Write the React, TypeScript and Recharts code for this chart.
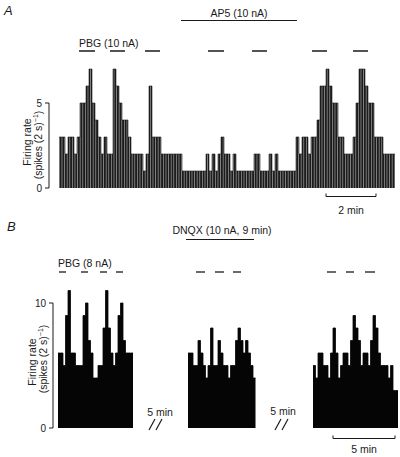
import React from 'react';
import { AreaChart, Area, XAxis, YAxis } from 'recharts';

// Panel A: firing rate, spikes per 2 s, binned across the recording
const panelA = [
    3, 3, 2, 3, 3, 2, 3, 5, 5, 6, 7, 5, 4, 3, 2, 3, 2, 2, 7, 6,
    5, 4, 4, 3, 2, 2, 2, 2, 1, 2, 6, 3, 3, 3, 2, 2, 2, 2, 2, 2,
    2, 1, 1, 1, 1, 1, 1, 1, 1, 2, 1, 2, 1, 2, 3, 2, 2, 1, 2, 1,
    1, 1, 1, 1, 1, 2, 2, 1, 1, 1, 2, 1, 2, 1, 1, 1, 1, 1, 1, 3,
    2, 3, 3, 2, 3, 3, 4, 6, 6, 7, 6, 5, 5, 3, 3, 2, 2, 2, 3, 5,
    7, 7, 6, 5, 5, 3, 3, 3, 2, 2, 2, 2,
];

// Panel B: three recording segments, separated by 5 min breaks
const panelBControl = [
    6, 6, 5, 9, 11, 6, 6, 5, 5, 5, 9, 10, 7, 6, 4, 4, 5, 5, 8, 11,
    8, 6, 5, 6, 9, 10, 7, 6, 6, 6,
];
const panelBDnqx = [
    6, 6, 5, 5, 7, 6, 5, 4, 5, 8, 5, 5, 7, 6, 5, 5, 4, 5, 5, 7,
    8, 7, 6, 7, 6, 5, 4,
];
const panelBRecovery = [
    5, 4, 6, 6, 5, 5, 4, 6, 8, 6, 4, 5, 6, 6, 5, 7, 9, 8, 7, 5,
    6, 6, 5, 7, 9, 8, 6, 5, 5, 5, 4, 5, 3, 3,
];
const BREAK_1 = 22;
const BREAK_2 = 23;

const A_TICKS = [0, 5];
const B_TICKS = [0, 10];
const A_MAX = 7;
const B_MAX = 11;

// step outline of a run of bins starting at bin `start`
const steps = (values: number[], start: number) => [
    ...values.map((v, k) => ({ x: start + k, v })),
    { x: start + values.length, v: values[values.length - 1] },
];

const dataA = steps(panelA, 0);
const startDnqx = panelBControl.length + BREAK_1;
const startRec = startDnqx + panelBDnqx.length + BREAK_2;
const endB = startRec + panelBRecovery.length;
const dataB = [
    ...steps(panelBControl, 0),
    { x: panelBControl.length + 0.5, v: null },
    ...steps(panelBDnqx, startDnqx),
    { x: startDnqx + panelBDnqx.length + 0.5, v: null },
    ...steps(panelBRecovery, startRec),
];

const FONT = '"Liberation Sans", Arial, sans-serif';
const INK = '#1a1a1a';

// y axis drawn by hand so the axis line stops at the top tick, like the figure
const makeTick = (unit: number, top: number) => (props: any) => {
    const { x, y, payload } = props;
    const axisX = x + 7;
    return (
        <g>
            <text x={x} y={y} dy={3.5} textAnchor="end" fontSize={10} fontFamily={FONT} fill={INK}>
                {payload.value}
            </text>
            <line x1={axisX - 4} x2={axisX} y1={y} y2={y} stroke={INK} strokeWidth={1} />
            {payload.value === top && (
                <line x1={axisX} x2={axisX} y1={y} y2={y + top * unit} stroke={INK} strokeWidth={1} />
            )}
        </g>
    );
};

const txt = { fontFamily: FONT, fill: INK, fontSize: 10.5 } as const;

const Slashes = ({ x, y }: { x: number; y: number }) => (
    <g stroke={INK} strokeWidth={1.2}>
        <line x1={x} y1={y + 11} x2={x + 6} y2={y} />
        <line x1={x + 7} y1={y + 11} x2={x + 13} y2={y} />
    </g>
);

export default function App() {
    const stimA = [[79, 95], [110, 125], [145, 160], [208, 224], [252, 267], [312, 327], [353, 368]];
    const stimB = [[59, 66], [81, 88], [100, 107], [116, 123], [196, 205], [215, 224], [233, 241], [327, 336], [346, 354], [365, 375]];

    return (
        <div style={{ position: 'absolute', left: 0, top: 0, width: 400, height: 457, background: '#fff', overflow: 'hidden' }}>
            <div style={{ position: 'absolute', left: 0, top: 0 }}>
                <AreaChart width={400} height={200} data={dataA} margin={{ top: 69, right: 5, bottom: 12, left: 0 }}>
                    <defs>
                        <pattern id="scan" width={2.6} height={8} patternUnits="userSpaceOnUse">
                            <rect width={2.6} height={8} fill="#1c1c1c" />
                            <rect x={2.05} width={0.55} height={8} fill="#ffffff" opacity={0.75} />
                        </pattern>
                    </defs>
                    <XAxis dataKey="x" type="number" domain={[0, panelA.length]} hide padding={{ left: 10, right: 0 }} />
                    <YAxis
                        width={49}
                        domain={[0, A_MAX]}
                        ticks={A_TICKS}
                        axisLine={false}
                        tickLine={false}
                        tickSize={4}
                        tickMargin={3}
                        tick={makeTick(119 / A_MAX, 5)}
                        interval={0}
                    />
                    <Area type="stepAfter" dataKey="v" fill="url(#scan)" fillOpacity={1} stroke="#1c1c1c" strokeWidth={0.6} isAnimationActive={false} dot={false} activeDot={false} />
                </AreaChart>
            </div>

            <div style={{ position: 'absolute', left: 0, top: 210 }}>
                <AreaChart width={400} height={230} data={dataB} margin={{ top: 80.5, right: 2, bottom: 12, left: 0 }}>
                    <XAxis dataKey="x" type="number" domain={[0, endB]} hide padding={{ left: 5, right: 0 }} />
                    <YAxis
                        width={53}
                        domain={[0, B_MAX]}
                        ticks={B_TICKS}
                        axisLine={false}
                        tickLine={false}
                        tickSize={4}
                        tickMargin={3}
                        tick={makeTick(137.5 / B_MAX, 10)}
                        interval={0}
                    />
                    <Area type="stepAfter" dataKey="v" fill="#050505" fillOpacity={1} stroke="#050505" strokeWidth={0.8} connectNulls={false} isAnimationActive={false} dot={false} activeDot={false} />
                </AreaChart>
            </div>

            <svg width={400} height={457} style={{ position: 'absolute', left: 0, top: 0, pointerEvents: 'none' }}>
                {/* panel A labels */}
                <text x={4} y={15} fontSize={13} fontStyle="italic" fontFamily={FONT} fill={INK}>A</text>
                <text x={239} y={17} textAnchor="middle" {...txt}>AP5 (10 nA)</text>
                <line x1={181} x2={297} y1={20.5} y2={20.5} stroke={INK} strokeWidth={1} />
                <text x={79} y={47} {...txt}>PBG (10 nA)</text>
                {stimA.map(([a, b], k) => (
                    <line key={k} x1={a} x2={b} y1={51} y2={51} stroke={INK} strokeWidth={1.5} />
                ))}
                <text transform="translate(27,142) rotate(-90)" textAnchor="middle" dominantBaseline="central" {...txt}>Firing rate</text>
                <text transform="translate(38,145) rotate(-90)" textAnchor="middle" dominantBaseline="central" {...txt}>
                    (spikes (2 s)<tspan dy={-3} fontSize={7}>−1</tspan><tspan dy={3}>)</tspan>
                </text>
                <path d="M326,193.5 V196.5 H376 V193.5" fill="none" stroke={INK} strokeWidth={1} />
                <text x={351} y={214} textAnchor="middle" {...txt}>2 min</text>

                {/* panel B labels */}
                <text x={7} y={231} fontSize={13} fontStyle="italic" fontFamily={FONT} fill={INK}>B</text>
                <text x={222} y={234} textAnchor="middle" {...txt}>DNQX (10 nA, 9 min)</text>
                <line x1={186} x2={254} y1={239.5} y2={239.5} stroke={INK} strokeWidth={1} />
                <text x={58} y={267} {...txt}>PBG (8 nA)</text>
                {stimB.map(([a, b], k) => (
                    <line key={k} x1={a} x2={b} y1={272} y2={272} stroke={INK} strokeWidth={1.3} />
                ))}
                <text transform="translate(32,362) rotate(-90)" textAnchor="middle" dominantBaseline="central" {...txt}>Firing rate</text>
                <text transform="translate(43,359) rotate(-90)" textAnchor="middle" dominantBaseline="central" {...txt}>
                    (spikes (2 s)<tspan dy={-3} fontSize={7}>−1</tspan><tspan dy={3}>)</tspan>
                </text>
                <text x={160} y={415.5} textAnchor="middle" {...txt}>5 min</text>
                <Slashes x={149} y={419} />
                <text x={283} y={414.5} textAnchor="middle" {...txt}>5 min</text>
                <Slashes x={275} y={419} />
                <path d="M333,435.5 V438.5 H395 V435.5" fill="none" stroke={INK} strokeWidth={1} />
                <text x={364} y={453} textAnchor="middle" {...txt}>5 min</text>
            </svg>
        </div>
    );
}
